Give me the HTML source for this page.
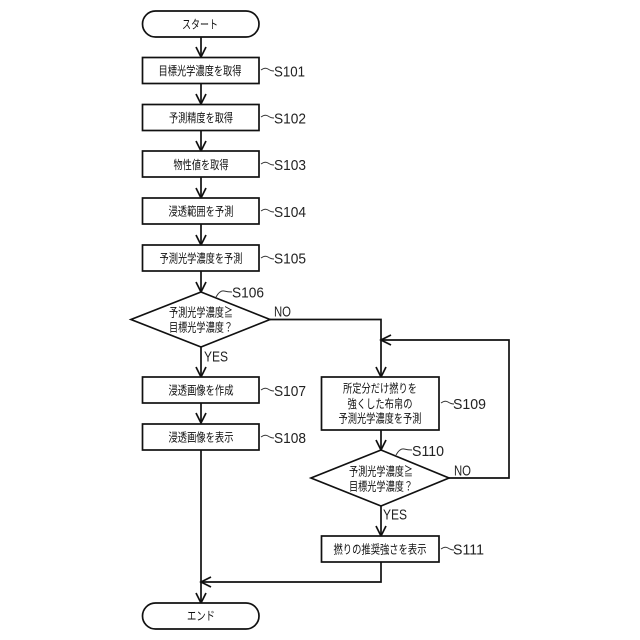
<!DOCTYPE html>
<html>
<head>
<meta charset="utf-8">
<style>
html,body{margin:0;padding:0;background:#fff;width:640px;height:640px;overflow:hidden}
svg{display:block}
text{font-family:"Liberation Sans","Noto Sans CJK JP",sans-serif;fill:#111}
.t{font-size:12px;text-anchor:middle}
.l{font-size:15px;font-family:"Liberation Sans",sans-serif;fill:#222}
.s{fill:#fff;stroke:#111;stroke-width:1.7}
.c{fill:none;stroke:#111;stroke-width:1.7}
.a{fill:none;stroke:#111;stroke-width:1.7}
.w{fill:none;stroke:#333;stroke-width:1}
</style>
</head>
<body>
<svg width="640" height="640" viewBox="0 0 640 640" xmlns="http://www.w3.org/2000/svg">
<!-- connectors -->
<path class="c" d="M201 37V57M201 84V104M201 131V151M201 177V198M201 224V245M201 271V292M201 347V377M201 403V423M201 450V603"/>
<path class="c" d="M270 319.5H381V377M381 430V450M381 506V536M449 478H509V340H381M381 562V582H201"/>
<!-- arrowheads -->
<path class="a" d="M196 47L201 57L206 47M196 94L201 104L206 94M196 141L201 151L206 141M196 188L201 198L206 188M196 235L201 245L206 235M196 282L201 292L206 282M196 367L201 377L206 367M196 413L201 423L206 413M196 593L201 603L206 593"/>
<path class="a" d="M376 367L381 377L386 367M376 440L381 450L386 440M376 526L381 536L386 526M391 335L381 340L391 345M211 577L201 582L211 587"/>
<!-- terminals -->
<rect class="s" x="142.5" y="11" width="116.5" height="26" rx="13"/>
<rect class="s" x="142.5" y="603" width="116.5" height="26" rx="13"/>
<!-- boxes -->
<rect class="s" x="142.5" y="57.5" width="116.5" height="26"/>
<rect class="s" x="142.5" y="104.5" width="116.5" height="26"/>
<rect class="s" x="142.5" y="151" width="116.5" height="26"/>
<rect class="s" x="142.5" y="198" width="116.5" height="26"/>
<rect class="s" x="142.5" y="245" width="116.5" height="26"/>
<rect class="s" x="142.5" y="377" width="116.5" height="26"/>
<rect class="s" x="142.5" y="424" width="116.5" height="26"/>
<rect class="s" x="321.5" y="377" width="117.5" height="53"/>
<rect class="s" x="321.5" y="536" width="117.5" height="26"/>
<!-- diamonds -->
<polygon class="s" points="201,292 270,319.5 201,347 131,319.5"/>
<polygon class="s" points="381,450 449,478 381,506 311,478"/>
<!-- box labels -->
<text class="t" x="200" y="24.5" dominant-baseline="central" textLength="36" lengthAdjust="spacingAndGlyphs">スタート</text>
<text class="t" x="200" y="71" dominant-baseline="central" textLength="83" lengthAdjust="spacingAndGlyphs">目標光学濃度を取得</text>
<text class="t" x="201" y="118" dominant-baseline="central" textLength="64" lengthAdjust="spacingAndGlyphs">予測精度を取得</text>
<text class="t" x="201" y="165" dominant-baseline="central" textLength="55" lengthAdjust="spacingAndGlyphs">物性値を取得</text>
<text class="t" x="201" y="211.5" dominant-baseline="central" textLength="65" lengthAdjust="spacingAndGlyphs">浸透範囲を予測</text>
<text class="t" x="201" y="258.5" dominant-baseline="central" textLength="83" lengthAdjust="spacingAndGlyphs">予測光学濃度を予測</text>
<text class="t" x="201" y="312.5" dominant-baseline="central" textLength="64" lengthAdjust="spacingAndGlyphs">予測光学濃度≧</text>
<text class="t" x="201" y="327.5" dominant-baseline="central" textLength="64" lengthAdjust="spacingAndGlyphs">目標光学濃度？</text>
<text class="t" x="201" y="390.5" dominant-baseline="central" textLength="65" lengthAdjust="spacingAndGlyphs">浸透画像を作成</text>
<text class="t" x="201" y="437.5" dominant-baseline="central" textLength="65" lengthAdjust="spacingAndGlyphs">浸透画像を表示</text>
<text class="t" x="380" y="388.5" dominant-baseline="central" textLength="74" lengthAdjust="spacingAndGlyphs">所定分だけ撚りを</text>
<text class="t" x="380" y="404" dominant-baseline="central" textLength="65" lengthAdjust="spacingAndGlyphs">強くした布帛の</text>
<text class="t" x="380" y="418.5" dominant-baseline="central" textLength="83" lengthAdjust="spacingAndGlyphs">予測光学濃度を予測</text>
<text class="t" x="381" y="471.5" dominant-baseline="central" textLength="64" lengthAdjust="spacingAndGlyphs">予測光学濃度≧</text>
<text class="t" x="381" y="486.5" dominant-baseline="central" textLength="64" lengthAdjust="spacingAndGlyphs">目標光学濃度？</text>
<text class="t" x="380" y="549.5" dominant-baseline="central" textLength="93" lengthAdjust="spacingAndGlyphs">撚りの推奨強さを表示</text>
<text class="t" x="201" y="616" dominant-baseline="central" textLength="28" lengthAdjust="spacingAndGlyphs">エンド</text>
<!-- step tildes -->
<path class="w" d="M261 70q4 -3 7 -1t6 2M261 117q4 -3 7 -1t6 2M261 164q4 -3 7 -1t6 2M261 211q4 -3 7 -1t6 2M261 258q4 -3 7 -1t6 2M261 390q4 -3 7 -1t6 2M261 437q4 -3 7 -1t6 2M441 403q4 -3 7 -1t6 2M441 549q4 -3 7 -1t6 2"/>
<path class="w" d="M216 297q4 -7 8 -6t8 1M396 455q4 -7 8 -6t8 1"/>
<!-- step labels -->
<text class="l" x="274" y="76.5" textLength="31" lengthAdjust="spacingAndGlyphs">S101</text>
<text class="l" x="274" y="123.5" textLength="32" lengthAdjust="spacingAndGlyphs">S102</text>
<text class="l" x="274" y="170" textLength="32" lengthAdjust="spacingAndGlyphs">S103</text>
<text class="l" x="274" y="217" textLength="32" lengthAdjust="spacingAndGlyphs">S104</text>
<text class="l" x="274" y="263.5" textLength="32" lengthAdjust="spacingAndGlyphs">S105</text>
<text class="l" x="232" y="297.5" textLength="32" lengthAdjust="spacingAndGlyphs">S106</text>
<text class="l" x="274" y="396" textLength="32" lengthAdjust="spacingAndGlyphs">S107</text>
<text class="l" x="274" y="443" textLength="32" lengthAdjust="spacingAndGlyphs">S108</text>
<text class="l" x="453" y="409" textLength="33" lengthAdjust="spacingAndGlyphs">S109</text>
<text class="l" x="412" y="456" textLength="32" lengthAdjust="spacingAndGlyphs">S110</text>
<text class="l" x="453" y="554.5" textLength="31" lengthAdjust="spacingAndGlyphs">S111</text>
<text class="l" x="274" y="316.5" textLength="17" lengthAdjust="spacingAndGlyphs">NO</text>
<text class="l" x="454" y="475.5" textLength="17" lengthAdjust="spacingAndGlyphs">NO</text>
<text class="l" x="204" y="361.5" textLength="24" lengthAdjust="spacingAndGlyphs">YES</text>
<text class="l" x="383" y="519.5" textLength="24" lengthAdjust="spacingAndGlyphs">YES</text>
</svg>
</body>
</html>
